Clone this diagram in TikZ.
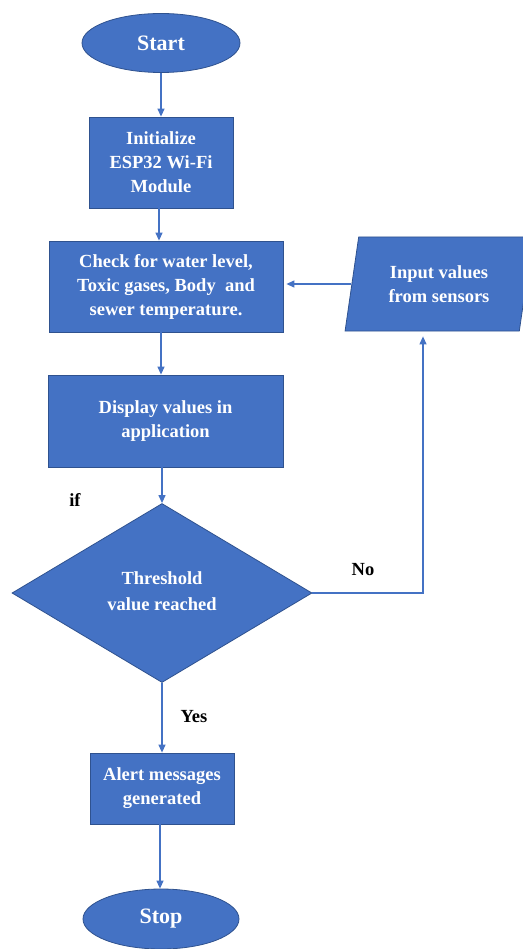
\documentclass[tikz,border=0pt]{standalone}
\usepackage{fontspec}
\setmainfont{Liberation Serif}
\usetikzlibrary{shapes.geometric,arrows.meta}
\definecolor{fcblue}{HTML}{4472C4}
\definecolor{fcedge}{HTML}{2F528F}
\begin{document}
\begin{tikzpicture}[x=1pt,y=-1pt,
  every node/.style={font=\bfseries\fontsize{18.5}{24}\selectfont},
  blk/.style={draw=fcedge,line width=0.8pt,fill=fcblue,text=white,align=center,inner sep=0pt},
  boxnode/.style={blk,rectangle},
  term/.style={blk,ellipse,font=\bfseries\fontsize{22}{26}\selectfont},
  lbl/.style={text=black},
  arr/.style={draw=fcblue,line width=1.2pt,-{Triangle[length=8pt,width=7pt]}}]
\useasboundingbox (0,0) rectangle (522,949);
\fill[white] (0,0) rectangle (522,949);

\node[term,minimum width=158pt,minimum height=59pt] (start) at (161,43) {Start};
\node[boxnode,minimum width=144pt,minimum height=91pt] (init) at (161,162.5) {Initialize\\ESP32 Wi-Fi\\Module};
\node[boxnode,minimum width=234pt,minimum height=91pt] (check) at (166,286.5) {Check for water level,\\Toxic gases, Body\ \ and\\sewer temperature.};
\node[boxnode,minimum width=235pt,minimum height=92pt] (disp) at (165.5,421) {\raisebox{5pt}{\begin{tabular}{@{}c@{}}Display values in\\application\end{tabular}}};
\node[blk,diamond,minimum width=300pt,minimum height=179pt] (dec) at (162,593) {\raisebox{4pt}{\begin{tabular}{@{}c@{}}Threshold\\[2pt]value reached\end{tabular}}};
\node[blk,trapezium,trapezium left angle=77,trapezium right angle=103,trapezium stretches=true,minimum width=188pt,minimum height=94pt] (inp) at (439,284) {Input values\\from sensors};
\node[boxnode,minimum width=144pt,minimum height=71pt] (alert) at (162,788.5) {Alert messages\\generated};
\node[term,minimum width=156pt,minimum height=60pt] (stop) at (161,919) {Stop};

\node[lbl] (iflbl) at (75,500) {if};
\node[lbl] (nolbl) at (363,570) {No};
\node[lbl] (yeslbl) at (194,717) {Yes};

\coordinate (nc) at (423,593);

\draw[arr] (start.south) -- (start.south |- init.north);
\draw[arr] ([xshift=-2pt]init.south) -- ([xshift=-2pt]init.south |- check.north);
\draw[arr] (check.south -| init.south) -- (init.south |- disp.north);
\draw[arr] (dec.north |- disp.south) -- (dec.north);
\draw[arr] (dec.south) -- (dec.south |- alert.north);
\draw[arr] ([xshift=-2pt]alert.south) -- ([xshift=-2pt]alert.south |- stop.north);
\draw[arr] (inp.west) -- ([xshift=3pt]check.east |- inp.west);
\draw[arr,shorten >=5pt] (dec.east) -- (nc) -- (nc |- inp.south);
\end{tikzpicture}
\end{document}
